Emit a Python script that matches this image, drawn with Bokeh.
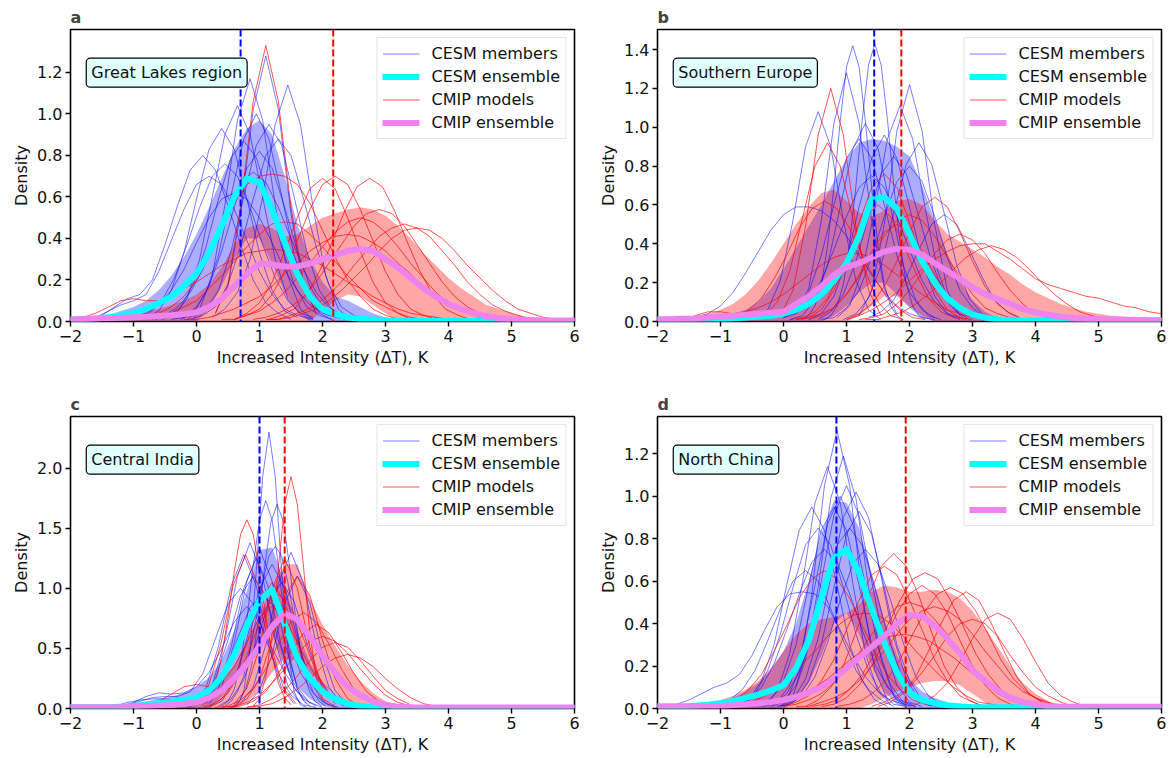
from bokeh.plotting import figure
from bokeh.layouts import row, column
from bokeh.models import (Range1d, FixedTicker, Span, Label, Legend, LegendItem,
                          NumeralTickFormatter)
from bokeh.embed import file_html
from bokeh.resources import INLINE

FONT = "DejaVu Sans"

# common x grid of the ensemble curves and spread bands (-2 ... 6, step 0.2)
X_GRID = [round(-2 + 0.2 * i, 2) for i in range(41)]
X_TICKS = [-2, -1, 0, 1, 2, 3, 4, 5, 6]

REGIONS = ["Great Lakes region", "Southern Europe", "Central India", "North China"]
LETTERS = ["a", "b", "c", "d"]
Y_MAX = [1.407, 1.503, 2.43, 1.376]
Y_TICKS = [[0, 0.2, 0.4, 0.6, 0.8, 1.0, 1.2],
           [0, 0.2, 0.4, 0.6, 0.8, 1.0, 1.2, 1.4],
           [0, 0.5, 1.0, 1.5, 2.0],
           [0, 0.2, 0.4, 0.6, 0.8, 1.0, 1.2]]
CESM_MEAN_LINE = [0.70, 1.44, 1.00, 0.84]
CMIP_MEAN_LINE = [2.17, 1.87, 1.40, 1.94]

# ---------------- panel a ----------------
A_CESM_ENS = [.01, .012, .015, .02, .03, .04, .06, .09, .12, .17,
              .23, .33, .46, .60, .69, .67, .54, .38, .23, .12,
              .06, .035, .02, .012, .008, .005, .003, .003, .003, .003,
              .003, .003, .003, .003, .003, .003, .003, .003, .003, .003, .003]
A_CMIP_ENS = [.01, .012, .014, .016, .018, .02, .023, .026, .03, .036,
              .044, .07, .11, .17, .23, .28, .275, .265, .265, .28,
              .30, .32, .34, .35, .34, .30, .26, .21, .16, .12,
              .085, .06, .04, .025, .016, .011, .008, .006, .005, .005, .005]
A_CESM_HI = [.01, .015, .02, .03, .05, .07, .10, .15, .22, .31,
             .42, .55, .69, .83, .93, .97, .90, .70, .47, .30,
             .19, .12, .10, .07, .04, .02, .01, 0, 0, 0,
             0, 0, 0, 0, 0, 0, 0, 0, 0, 0, 0]
A_CESM_LO = [0, 0, 0, 0, 0, 0, 0, 0, 0, 0,
             0, .06, .17, .30, .40, .40, .28, .14, .05, 0,
             0, 0, 0, 0, 0, 0, 0, 0, 0, 0,
             0, 0, 0, 0, 0, 0, 0, 0, 0, 0, 0]
A_CMIP_HI = [.01, .015, .02, .025, .03, .04, .05, .06, .08, .10,
             .13, .18, .26, .37, .45, .47, .45, .41, .42, .46,
             .50, .52, .54, .55, .54, .51, .46, .40, .33, .27,
             .21, .16, .12, .08, .06, .04, .025, .015, .01, .008, .007]
A_CMIP_LO = [0, 0, 0, 0, 0, 0, 0, 0, 0, 0,
             0, 0, 0, 0, 0, 0, 0, 0, 0, 0,
             .05, .10, .13, .12, .08, .04, 0, 0, 0, 0,
             0, 0, 0, 0, 0, 0, 0, 0, 0, 0, 0]
# members: (start x, step, densities)
A_CESM_MEMBERS = [
    (0.3, 0.2, [.04, .17, .52, 1.02, 1.28, 1.02, .52, .17, .04]),
    (0.25, 0.2, [.02, .06, .14, .30, .60, .95, 1.14, .95, .55, .22, .06, .01]),
    (-0.15, 0.2, [.01, .06, .22, .56, .97, 1.17, .97, .56, .22, .06, .01]),
    (-0.55, 0.2, [.01, .03, .11, .30, .60, .90, 1.04, .90, .60, .30, .11, .03, .01]),
    (-0.8, 0.2, [.02, .05, .15, .33, .59, .83, .93, .83, .59, .33, .15, .05, .02]),
    (-1.7, 0.2, [.01, .03, .07, .11, .13, .20, .37, .56, .73, .80, .73, .56, .37, .20, .09, .04, .01]),
    (-0.25, 0.2, [.01, .04, .14, .32, .61, .88, 1.0, .88, .61, .32, .14, .04, .01]),
    (-0.05, 0.2, [.02, .06, .15, .34, .60, .85, .95, .85, .60, .34, .15, .06, .02]),
    (-0.65, 0.2, [.01, .03, .07, .18, .36, .59, .79, .87, .79, .59, .36, .18, .07, .03, .01]),
    (-0.95, 0.2, [.02, .04, .10, .21, .37, .55, .70, .76, .70, .55, .37, .21, .10, .04, .02]),
    (-1.6, 0.2, [.02, .05, .08, .10, .13, .24, .39, .54, .66, .70, .66, .54, .39, .24, .13, .06, .03, .01]),
    (-0.1, 0.2, [.01, .03, .07, .18, .36, .59, .80, .88, .80, .59, .36, .18, .07, .03, .01]),
    (-0.7, 0.2, [.01, .03, .07, .14, .25, .40, .55, .67, .72, .67, .55, .40, .25, .14, .07, .03, .01]),
    (-1.2, 0.2, [.01, .02, .04, .08, .15, .25, .38, .50, .59, .62, .59, .50, .38, .25, .15, .08, .04, .02, .01]),
    (-0.4, 0.2, [.01, .02, .07, .17, .34, .55, .74, .82, .74, .55, .34, .17, .07, .02, .01]),
]
A_CMIP_MODELS = [
    (0.3, 0.2, [.04, .18, .55, 1.06, 1.33, 1.06, .55, .18, .04]),
    (0.6, 0.2, [.01, .03, .06, .13, .24, .39, .54, .66, .70, .66, .54, .39, .24, .13, .06, .03, .01]),
    (0.6, 0.2, [.01, .04, .09, .19, .34, .50, .64, .69, .64, .50, .34, .19, .09, .04, .01]),
    (1.15, 0.2, [.01, .03, .06, .13, .24, .38, .53, .65, .69, .65, .53, .38, .24, .13, .06, .03, .01]),
    (0.9, 0.2, [.01, .02, .04, .07, .12, .19, .28, .37, .46, .52, .54, .52, .46, .37, .28, .19, .12, .07, .04, .02, .01]),
    (1.1, 0.2, [.01, .01, .03, .05, .08, .13, .19, .27, .34, .41, .45, .47, .45, .41, .34, .27, .19, .13, .08, .05, .03, .01, .01]),
    (-0.8, 0.2, [.02, .04, .07, .12, .20, .31, .44, .57, .66, .70, .71, .70, .66, .57, .44, .31, .20, .12, .06, .03, .01]),
    (-1.0, 0.2, [.01, .01, .02, .04, .07, .10, .16, .22, .29, .36, .42, .47, .48, .47, .42, .36, .29, .22, .16, .10, .07, .04, .02, .01, .01]),
    (-2.0, 0.2, [.01, .02, .04, .07, .10, .11, .10, .10, .12, .16, .19, .23, .27, .30, .33, .34, .35, .34, .33, .30, .27, .23, .19, .16, .12, .09, .06, .04, .03, .02, .01, .01, .01]),
    (0.4, 0.2, [.01, .01, .03, .05, .09, .14, .21, .28, .36, .43, .48, .50, .48, .43, .36, .28, .21, .14, .09, .05, .03, .01, .01]),
    (1.1, 0.2, [.01, .01, .02, .04, .06, .10, .15, .21, .27, .34, .40, .44, .45, .44, .40, .34, .27, .21, .15, .10, .06, .04, .02, .01, .01]),
    (-0.2, 0.2, [.01, .01, .02, .04, .06, .09, .12, .17, .23, .28, .34, .38, .41, .42, .41, .38, .34, .28, .23, .17, .12, .09, .06, .04, .02, .01, .01]),
]

# ---------------- panel b ----------------
B_CESM_ENS = [.01, .01, .01, .01, .01, .012, .015, .02, .025, .03,
              .04, .06, .09, .14, .21, .30, .44, .63, .64, .58,
              .45, .31, .20, .12, .07, .035, .02, .01, .007, .005,
              .005, .005, .005, .005, .005, .005, .005, .005, .005, .005, .005]
B_CMIP_ENS = [.01, .012, .014, .016, .02, .025, .03, .035, .04, .045,
              .05, .09, .13, .18, .24, .28, .30, .33, .36, .375,
              .37, .345, .30, .26, .22, .175, .14, .115, .09, .065,
              .046, .035, .025, .018, .014, .012, .01, .009, .008, .007, .006]
B_CESM_HI = [.01, .01, .015, .02, .025, .03, .04, .06, .10, .17,
             .27, .38, .49, .60, .72, .84, .92, .94, .93, .90,
             .85, .70, .52, .35, .21, .11, .05, .02, .01, 0,
             0, 0, 0, 0, 0, 0, 0, 0, 0, 0, 0]
B_CESM_LO = [0, 0, 0, 0, 0, 0, 0, 0, 0, 0,
             0, 0, 0, 0, .03, .08, .15, .20, .20, .14,
             .07, .02, 0, 0, 0, 0, 0, 0, 0, 0,
             0, 0, 0, 0, 0, 0, 0, 0, 0, 0, 0]
B_CMIP_HI = [.01, .015, .02, .03, .04, .06, .09, .14, .21, .30,
             .40, .50, .59, .66, .68, .62, .56, .54, .57, .62,
             .63, .60, .52, .45, .41, .37, .33, .28, .24, .19,
             .15, .12, .09, .07, .05, .04, .03, .025, .02, .017, .015]
B_CMIP_LO = [0, 0, 0, 0, 0, 0, 0, 0, 0, 0,
             0, 0, 0, 0, 0, 0, .03, .08, .13, .13,
             .08, .03, 0, 0, 0, 0, 0, 0, 0, 0,
             0, 0, 0, 0, 0, 0, 0, 0, 0, 0, 0]
B_CESM_MEMBERS = [
    (0.65, 0.1, [.01, .03, .08, .19, .40, .70, 1.04, 1.32, 1.43, 1.32, 1.04, .70, .40, .19, .08, .03, .01]),
    (0.3, 0.1, [.01, .03, .08, .19, .39, .69, 1.03, 1.31, 1.42, 1.31, 1.03, .69, .39, .19, .08, .03, .01]),
    (0.2, 0.2, [.04, .17, .52, 1.02, 1.28, 1.02, .52, .17, .04]),
    (1.2, 0.2, [.03, .16, .50, .98, 1.22, .98, .50, .16, .03]),
    (-0.45, 0.2, [.01, .06, .21, .52, .90, 1.08, .90, .52, .21, .06, .01]),
    (0.85, 0.2, [.02, .08, .26, .58, .94, 1.11, .94, .58, .26, .08, .02]),
    (0.1, 0.2, [.01, .03, .11, .29, .59, .89, 1.02, .89, .59, .29, .11, .03, .01]),
    (0.95, 0.2, [.01, .04, .12, .29, .56, .81, .92, .81, .56, .29, .12, .04, .01]),
    (0.4, 0.2, [.01, .04, .13, .31, .59, .84, .96, .84, .59, .31, .13, .04, .01]),
    (0.0, 0.2, [.02, .06, .15, .34, .60, .84, .94, .84, .60, .34, .15, .06, .02]),
    (-1.6, 0.2, [.01, .02, .04, .08, .15, .25, .36, .47, .55, .59, .59, .57, .52, .44, .34, .24, .15, .08, .04, .02, .01]),
    (1.35, 0.2, [.02, .05, .11, .23, .37, .50, .55, .50, .37, .23, .11, .05, .02]),
    (0.55, 0.2, [.01, .05, .14, .31, .54, .76, .85, .76, .54, .31, .14, .05, .01]),
    (0.0, 0.2, [.02, .04, .10, .21, .37, .54, .69, .75, .69, .54, .37, .21, .10, .04, .02]),
    (0.6, 0.2, [.01, .02, .07, .16, .33, .54, .72, .80, .72, .54, .33, .16, .07, .02, .01]),
]
B_CMIP_MODELS = [
    (-0.05, 0.2, [.03, .16, .49, .96, 1.2, .96, .49, .16, .03]),
    (-0.5, 0.2, [.01, .03, .10, .26, .53, .80, .92, .80, .53, .26, .10, .03, .01]),
    (-0.95, 0.2, [.01, .02, .06, .12, .22, .34, .48, .58, .62, .58, .48, .34, .22, .12, .06, .02, .01]),
    (0.2, 0.2, [.01, .02, .06, .16, .31, .51, .69, .76, .69, .51, .31, .16, .06, .02, .01]),
    (1.0, 0.2, [.01, .04, .09, .18, .31, .46, .59, .64, .59, .46, .31, .18, .09, .04, .01]),
    (1.3, 0.2, [.01, .01, .03, .05, .09, .14, .20, .27, .33, .37, .39, .37, .33, .27, .20, .14, .09, .05, .03, .01, .01]),
    (0.2, 0.2, [.01, .02, .04, .07, .14, .23, .33, .44, .52, .55, .52, .44, .33, .23, .14, .07, .04, .02, .01]),
    (1.0, 0.2, [.01, .03, .06, .10, .15, .21, .27, .32, .36, .39, .40, .40, .36, .32, .27, .22, .19, .17, .15, .13, .12, .10, .08, .07, .05, .04]),
    (0.4, 0.2, [.01, .03, .07, .14, .24, .36, .46, .50, .46, .36, .24, .14, .07, .03, .01]),
    (-1.6, 0.2, [.01, .03, .05, .05, .04, .05, .07, .10, .14, .19, .24, .29, .33, .35, .35, .33, .29, .24, .19, .14, .10, .06, .04, .02, .01]),
    (1.2, 0.2, [.01, .02, .04, .09, .16, .25, .35, .42, .45, .42, .35, .25, .16, .09, .04, .02, .01]),
    (0.1, 0.2, [.01, .02, .05, .12, .25, .40, .54, .60, .54, .40, .25, .12, .05, .02, .01]),
]

# ---------------- panel c ----------------
C_CESM_ENS = [.01, .01, .01, .01, .015, .02, .03, .045, .055, .07,
              .09, .15, .26, .45, .69, .90, .99, .70, .42, .25,
              .14, .08, .04, .02, .01, .007, .005, .005, .005, .005,
              .005, .005, .005, .005, .005, .005, .005, .005, .005, .005, .005]
C_CMIP_ENS = [.01, .01, .01, .01, .01, .015, .02, .025, .03, .04,
              .05, .09, .15, .25, .37, .52, .68, .79, .74, .60,
              .44, .30, .18, .11, .06, .03, .015, .01, .008, .008,
              .008, .008, .008, .008, .008, .008, .008, .008, .008, .008, .008]
C_CESM_HI = [.01, .01, .01, .01, .02, .04, .06, .08, .10, .13,
             .18, .26, .40, .65, .98, 1.32, 1.34, 1.05, .65, .38,
             .22, .12, .06, .03, .01, 0, 0, 0, 0, 0,
             0, 0, 0, 0, 0, 0, 0, 0, 0, 0, 0]
C_CESM_LO = [0, 0, 0, 0, 0, 0, 0, 0, 0, 0,
             0, 0, .10, .25, .40, .52, .62, .35, .18, .08,
             .02, 0, 0, 0, 0, 0, 0, 0, 0, 0,
             0, 0, 0, 0, 0, 0, 0, 0, 0, 0, 0]
C_CMIP_HI = [.01, .01, .01, .01, .01, .015, .02, .03, .04, .06,
             .08, .13, .22, .36, .55, .78, 1.0, 1.2, 1.2, .92,
             .70, .52, .36, .23, .13, .06, .03, .015, .01, .01,
             .01, .01, .01, .01, .01, .01, .01, .01, .01, .01, .01]
C_CMIP_LO = [0, 0, 0, 0, 0, 0, 0, 0, 0, 0,
             0, 0, 0, 0, .05, .15, .30, .42, .40, .30,
             .20, .12, .05, 0, 0, 0, 0, 0, 0, 0,
             0, 0, 0, 0, 0, 0, 0, 0, 0, 0, 0]
C_CESM_MEMBERS = [
    (0.55, 0.1, [.01, .03, .14, .49, 1.15, 1.93, 2.3, 1.93, 1.15, .49, .14, .03, .01]),
    (0.4, 0.1, [.02, .06, .16, .38, .74, 1.19, 1.57, 1.73, 1.57, 1.19, .74, .38, .16, .06, .02]),
    (0.58, 0.1, [.02, .06, .16, .37, .73, 1.17, 1.55, 1.70, 1.55, 1.17, .73, .37, .16, .06, .02]),
    (0.05, 0.2, [.04, .19, .57, 1.10, 1.38, 1.10, .57, .19, .04]),
    (-0.05, 0.2, [.04, .17, .52, 1.02, 1.28, 1.02, .52, .17, .04]),
    (0.2, 0.2, [.04, .18, .55, 1.06, 1.33, 1.06, .55, .18, .04]),
    (0.7, 0.2, [.04, .18, .53, 1.04, 1.30, 1.04, .53, .18, .04]),
    (0.2, 0.2, [.01, .06, .23, .58, 1.0, 1.2, 1.0, .58, .23, .06, .01]),
    (-1.3, 0.2, [.02, .05, .07, .08, .08, .07, .08, .10, .25, .57, .94, 1.10, .94, .57, .25, .08, .02]),
    (0.35, 0.2, [.02, .08, .24, .55, .89, 1.05, .89, .55, .24, .08, .02]),
    (-1.1, 0.2, [.03, .06, .09, .10, .10, .14, .29, .58, .87, 1.0, .87, .58, .29, .11, .03, .01]),
    (-0.15, 0.2, [.01, .04, .13, .30, .58, .84, .95, .84, .58, .30, .13, .04, .01]),
    (0.8, 0.2, [.03, .15, .45, .88, 1.1, .88, .45, .15, .03]),
    (0.45, 0.1, [.02, .06, .14, .27, .49, .76, 1.05, 1.27, 1.35, 1.27, 1.05, .76, .49, .27, .14, .06, .02]),
    (0.15, 0.2, [.04, .17, .51, 1.0, 1.25, 1.0, .51, .17, .04]),
    (-1.2, 0.2, [.02, .05, .10, .13, .12, .13, .18, .30, .50, .72, .85, .72, .50, .30, .14, .05, .01]),
]
C_CMIP_MODELS = [
    (0.9, 0.1, [.02, .08, .26, .63, 1.17, 1.70, 1.93, 1.70, 1.17, .63, .26, .08, .02]),
    (0.1, 0.1, [.03, .09, .21, .44, .76, 1.14, 1.45, 1.57, 1.45, 1.14, .76, .44, .21, .09, .03]),
    (-0.02, 0.2, [.04, .17, .52, 1.02, 1.28, 1.02, .52, .17, .04]),
    (0.6, 0.2, [.04, .17, .51, 1.0, 1.25, 1.0, .51, .17, .04]),
    (0.6, 0.2, [.02, .08, .25, .57, .94, 1.1, .94, .57, .25, .08, .02]),
    (0.2, 0.2, [.02, .08, .24, .55, .89, 1.05, .89, .55, .24, .08, .02]),
    (0.5, 0.2, [.01, .02, .06, .14, .29, .47, .63, .70, .63, .47, .29, .14, .06, .02, .01]),
    (0.8, 0.2, [.01, .03, .08, .15, .27, .40, .51, .55, .51, .40, .27, .15, .08, .03, .01]),
    (0.3, 0.2, [.01, .02, .07, .16, .33, .54, .72, .80, .72, .54, .33, .16, .07, .02, .01]),
    (0.1, 0.2, [.01, .04, .13, .30, .58, .84, .95, .84, .58, .30, .13, .04, .01]),
    (0.4, 0.2, [.01, .02, .05, .11, .21, .33, .46, .56, .60, .56, .46, .33, .21, .11, .05, .02, .01]),
    (-0.8, 0.2, [.02, .06, .12, .18, .20, .18, .22, .35, .55, .76, .85, .76, .55, .35, .18, .08, .03, .01]),
    (0.8, 0.2, [.01, .02, .04, .09, .16, .25, .35, .42, .45, .42, .35, .25, .16, .09, .04, .02, .01]),
]

# ---------------- panel d ----------------
D_CESM_ENS = [.01, .01, .01, .013, .018, .025, .035, .05, .065, .085,
              .11, .19, .32, .52, .71, .75, .64, .47, .31, .17,
              .075, .04, .025, .015, .01, .006, .006, .006, .006, .006,
              .006, .006, .006, .006, .006, .006, .006, .006, .006, .006, .006]
D_CMIP_ENS = [.01, .01, .01, .01, .01, .012, .015, .02, .025, .03,
              .04, .055, .075, .10, .14, .19, .24, .29, .34, .40,
              .44, .435, .39, .33, .26, .18, .13, .085, .05, .03,
              .02, .012, .008, .008, .008, .008, .008, .008, .008, .008, .008]
D_CESM_HI = [.01, .01, .01, .01, .02, .03, .05, .08, .12, .18,
             .27, .40, .60, .82, .98, .97, .85, .64, .42, .25,
             .14, .08, .05, .03, .01, 0, 0, 0, 0, 0,
             0, 0, 0, 0, 0, 0, 0, 0, 0, 0, 0]
D_CESM_LO = [0, 0, 0, 0, 0, 0, 0, 0, 0, 0,
             0, .04, .12, .25, .40, .45, .35, .20, .08, .02,
             0, 0, 0, 0, 0, 0, 0, 0, 0, 0,
             0, 0, 0, 0, 0, 0, 0, 0, 0, 0, 0]
D_CMIP_HI = [.01, .01, .015, .02, .03, .04, .06, .09, .13, .19,
             .27, .35, .40, .42, .43, .45, .49, .55, .58, .57,
             .55, .55, .56, .55, .52, .46, .38, .29, .20, .12,
             .07, .035, .015, .008, 0, 0, 0, 0, 0, 0, 0]
D_CMIP_LO = [0, 0, 0, 0, 0, 0, 0, 0, 0, 0,
             0, 0, 0, 0, 0, 0, 0, .02, .05, .08,
             .10, .12, .13, .13, .11, .07, .03, 0, 0, 0,
             0, 0, 0, 0, 0, 0, 0, 0, 0, 0, 0]
D_CESM_MEMBERS = [
    (0.05, 0.2, [.04, .18, .54, 1.05, 1.31, 1.05, .54, .18, .04]),
    (-0.05, 0.2, [.01, .06, .23, .57, .99, 1.19, .99, .57, .23, .06, .01]),
    (-0.3, 0.2, [.02, .08, .26, .59, .97, 1.14, .97, .59, .26, .08, .02]),
    (-0.2, 0.2, [.01, .03, .11, .30, .60, .91, 1.05, .91, .60, .30, .11, .03, .01]),
    (-0.05, 0.2, [.01, .04, .14, .33, .62, .90, 1.02, .90, .62, .33, .14, .04, .01]),
    (-0.85, 0.2, [.01, .02, .07, .18, .35, .57, .77, .85, .77, .57, .35, .18, .07, .02, .01]),
    (-0.4, 0.2, [.01, .04, .13, .30, .58, .84, .95, .84, .58, .30, .13, .04, .01]),
    (0.0, 0.2, [.01, .04, .13, .30, .57, .82, .93, .82, .57, .30, .13, .04, .01]),
    (-1.05, 0.2, [.01, .04, .09, .18, .32, .47, .60, .65, .60, .47, .32, .18, .09, .04, .01]),
    (-1.7, 0.2, [.02, .04, .07, .10, .12, .16, .25, .37, .48, .54, .55, .54, .48, .37, .25, .15, .08, .04, .02, .01]),
    (-0.35, 0.2, [.01, .02, .07, .17, .35, .57, .77, .85, .77, .57, .35, .17, .07, .02, .01]),
    (-0.75, 0.2, [.02, .04, .10, .21, .37, .54, .69, .75, .69, .54, .37, .21, .10, .04, .02]),
    (-0.3, 0.2, [.01, .03, .11, .29, .58, .87, 1.0, .87, .58, .29, .11, .03, .01]),
    (-0.1, 0.2, [.01, .02, .06, .15, .31, .51, .68, .75, .68, .51, .31, .15, .06, .02, .01]),
    (-0.75, 0.2, [.01, .04, .13, .30, .58, .84, .95, .84, .58, .30, .13, .04, .01]),
]
D_CMIP_MODELS = [
    (0.35, 0.2, [.01, .04, .10, .20, .36, .53, .67, .73, .67, .53, .36, .20, .10, .04, .01]),
    (0.0, 0.2, [.01, .03, .06, .13, .23, .37, .51, .63, .67, .63, .51, .37, .23, .13, .06, .03, .01]),
    (-1.15, 0.2, [.01, .02, .04, .09, .16, .27, .39, .52, .61, .65, .61, .52, .39, .27, .16, .09, .04, .02, .01]),
    (0.45, 0.2, [.01, .02, .04, .09, .16, .26, .39, .51, .61, .64, .61, .51, .39, .26, .16, .09, .04, .02, .01]),
    (0.85, 0.2, [.01, .02, .04, .08, .14, .23, .35, .46, .54, .57, .54, .46, .35, .23, .14, .08, .04, .02, .01]),
    (0.0, 0.2, [.01, .02, .04, .07, .12, .18, .26, .35, .42, .48, .50, .48, .42, .35, .26, .18, .12, .07, .04, .02, .01]),
    (0.2, 0.2, [.01, .01, .03, .05, .08, .13, .20, .27, .35, .42, .46, .48, .46, .42, .35, .27, .20, .13, .08, .05, .03, .01, .01]),
    (-1.1, 0.2, [.01, .01, .02, .03, .06, .10, .15, .21, .27, .34, .40, .44, .45, .44, .40, .34, .27, .21, .15, .10, .06, .03, .02, .01, .01]),
    (1.4, 0.2, [.01, .03, .06, .10, .17, .25, .34, .40, .42, .40, .34, .25, .17, .10, .06, .03, .01]),
    (1.5, 0.2, [.01, .03, .07, .15, .27, .40, .51, .55, .51, .40, .27, .15, .07, .03, .01]),
    (-0.7, 0.2, [.01, .01, .02, .03, .05, .07, .10, .14, .19, .24, .28, .32, .34, .35, .34, .32, .28, .24, .19, .14, .10, .07, .05, .03, .02, .01, .01]),
    (0.6, 0.2, [.01, .02, .05, .11, .20, .32, .45, .54, .58, .54, .45, .32, .20, .11, .05, .02, .01]),
    (2.0, 0.2, [.01, .03, .06, .12, .22, .33, .42, .45, .42, .33, .22, .12, .06, .03, .01]),
]

PANELS = [
    (A_CESM_ENS, A_CMIP_ENS, A_CESM_LO, A_CESM_HI, A_CMIP_LO, A_CMIP_HI, A_CESM_MEMBERS, A_CMIP_MODELS),
    (B_CESM_ENS, B_CMIP_ENS, B_CESM_LO, B_CESM_HI, B_CMIP_LO, B_CMIP_HI, B_CESM_MEMBERS, B_CMIP_MODELS),
    (C_CESM_ENS, C_CMIP_ENS, C_CESM_LO, C_CESM_HI, C_CMIP_LO, C_CMIP_HI, C_CESM_MEMBERS, C_CMIP_MODELS),
    (D_CESM_ENS, D_CMIP_ENS, D_CESM_LO, D_CESM_HI, D_CMIP_LO, D_CMIP_HI, D_CESM_MEMBERS, D_CMIP_MODELS),
]


def member_lines(members):
    xs = [[x0 + dx * i for i in range(len(v))] for x0, dx, v in members]
    ys = [list(v) for _, _, v in members]
    return xs, ys


def make_panel(k):
    cesm_ens, cmip_ens, c_lo, c_hi, m_lo, m_hi, c_mem, m_mod = PANELS[k]
    left = k % 2 == 0
    top = k < 2
    p = figure(frame_width=504, frame_height=292,
               x_range=Range1d(-2, 6), y_range=Range1d(0, Y_MAX[k]),
               output_backend="svg", toolbar_location=None,
               min_border_left=70 if left else 62, min_border_right=21 if left else 5,
               min_border_top=29 if top else 21, min_border_bottom=69 if top else 44,
               title=LETTERS[k])
    p.title.text_font = FONT
    p.title.text_font_style = "bold"
    p.title.text_font_size = "16px"
    p.title.align = "left"
    p.title.standoff = 5
    p.grid.visible = False
    p.outline_line_color = "black"
    p.outline_line_width = 1.6
    p.background_fill_color = "white"

    # spread bands
    p.varea(x=X_GRID, y1=c_lo, y2=c_hi, fill_color="#0000ff", fill_alpha=0.32)
    p.varea(x=X_GRID, y1=m_lo, y2=m_hi, fill_color="#ff0000", fill_alpha=0.35)

    cx, cy = member_lines(c_mem)
    r_cm = p.multi_line(xs=cx, ys=cy, line_color="#0000ff", line_alpha=0.65, line_width=0.8)
    mx, my = member_lines(m_mod)
    r_mm = p.multi_line(xs=mx, ys=my, line_color="#ff0000", line_alpha=0.85, line_width=0.8)

    r_ce = p.line(X_GRID, cesm_ens, line_color="#00ffff", line_width=6, line_cap="round", line_join="round")
    r_me = p.line(X_GRID, cmip_ens, line_color="#ee82ee", line_width=6, line_cap="round", line_join="round")

    p.add_layout(Span(location=CESM_MEAN_LINE[k], dimension="height", line_color="#0000ff",
                      line_dash="7 3", line_width=2))
    p.add_layout(Span(location=CMIP_MEAN_LINE[k], dimension="height", line_color="#ff0000",
                      line_dash="7 3", line_width=2))

    p.add_layout(Label(x=-1.75, y=Y_MAX[k] * 0.852, text=REGIONS[k], text_baseline="middle",
                       text_font=FONT, text_font_size="16px", text_color="#111111",
                       background_fill_color="#e0ffff", background_fill_alpha=1.0,
                       border_line_color="black", border_line_width=1.2,
                       padding=5, border_radius=4))

    legend = Legend(items=[LegendItem(label="CESM members", renderers=[r_cm]),
                           LegendItem(label="CESM ensemble", renderers=[r_ce]),
                           LegendItem(label="CMIP models", renderers=[r_mm]),
                           LegendItem(label="CMIP ensemble", renderers=[r_me])],
                    location="top_right")
    legend.label_text_font = FONT
    legend.label_text_font_size = "16px"
    legend.label_text_color = "#111111"
    legend.glyph_width = 37
    legend.glyph_height = 21
    legend.label_height = 21
    legend.label_standoff = 12
    legend.spacing = 2
    legend.padding = 5
    legend.margin = 8
    legend.border_line_color = "#cccccc"
    legend.border_line_width = 1
    legend.background_fill_alpha = 0.8
    p.add_layout(legend)

    p.xaxis.ticker = FixedTicker(ticks=X_TICKS)
    p.xaxis.major_label_overrides = {-2: "\u22122", -1: "\u22121"}
    p.yaxis.ticker = FixedTicker(ticks=Y_TICKS[k])
    p.yaxis.formatter = NumeralTickFormatter(format="0.0")
    p.xaxis.axis_label = "Increased Intensity (\u0394T), K"
    p.yaxis.axis_label = "Density"
    for ax in (p.xaxis, p.yaxis):
        ax.axis_label_text_font = FONT
        ax.axis_label_text_font_size = "16px"
        ax.axis_label_text_font_style = "normal"
        ax.axis_label_text_color = "#111111"
        ax.major_label_text_font = FONT
        ax.major_label_text_font_size = "16px"
        ax.major_label_text_color = "#111111"
        ax.axis_line_color = None
        ax.major_tick_line_color = "black"
        ax.major_tick_line_width = 1.4
        ax.major_tick_in = 0
        ax.major_tick_out = 5
        ax.minor_tick_line_color = None
        ax.major_label_standoff = 3
        ax.axis_label_standoff = 3
    return p


figs = [make_panel(k) for k in range(4)]
layout = column(row(figs[0], figs[1]), row(figs[2], figs[3]))
open("out.html", "w").write(file_html(layout, INLINE))
